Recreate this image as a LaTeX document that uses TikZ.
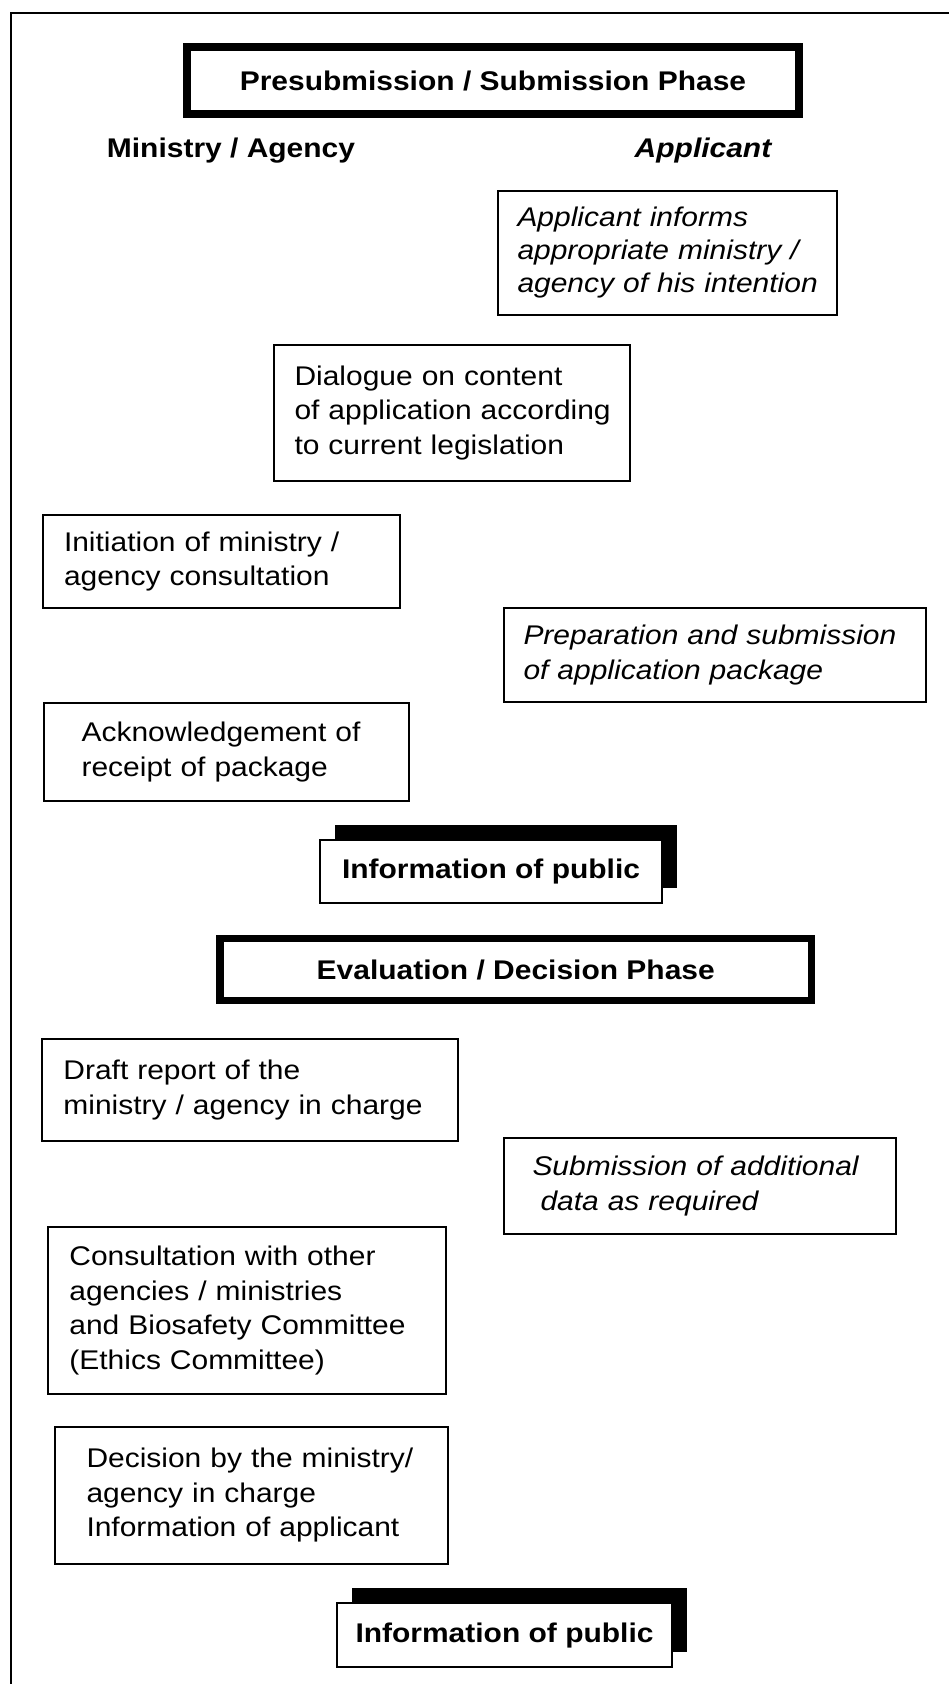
\documentclass[tikz,border=0pt]{standalone}
\usepackage{fontspec}
\setmainfont{Liberation Sans}[FakeStretch=1.11]
\usetikzlibrary{shadows}
\newcommand\basefont{\fontsize{27}{34.5}\selectfont}
\newcommand\oneline[1]{\mbox{#1}}
\begin{document}
\begin{tikzpicture}[x=1pt,y=-1pt,
  every node/.style={font=\basefont},
  stepbox/.style={draw, line width=2pt, rectangle, anchor=north west, align=left,
    inner ysep=0pt, outer sep=0pt},
  itbox/.style={stepbox, font=\basefont\itshape},
  phasebox/.style={draw, line width=7.5pt, rectangle, font=\basefont\bfseries,
    inner sep=0pt, outer sep=0pt},
  pubbox/.style={draw, line width=2pt, rectangle, fill=white, font=\basefont\bfseries,
    inner sep=0pt, outer sep=0pt,
    drop shadow={shadow xshift=14.5pt, shadow yshift=15.5pt, fill=black, opacity=1}},
  colhead/.style={anchor=base, font=\basefont\bfseries},
  frameline/.style={line width=1.8pt}
]
\useasboundingbox (0,0) rectangle (949,1684);
% outer frame (top and left only)
\coordinate (fa) at (11,1690);
\coordinate (fb) at (11,12.7);
\coordinate (fc) at (955,12.7);
\draw[frameline] (fa) -- (fb) -- (fc);

% phase 1
\node[phasebox, minimum width=612pt, minimum height=67pt] (ph1) at (493,80.5)
  {Presubmission / Submission Phase};
\node[colhead] (hmin) at (231,157) {Ministry / Agency};
\node[colhead, font=\basefont\bfseries\itshape] (happ) at (703,157) {Applicant};

\node[itbox, minimum height=124.3pt, inner xsep=20pt, text width=299.5pt] (app) at (497.5,190.7)
  {\oneline{Applicant informs}\\[-1.5pt]\oneline{appropriate ministry /}\\[-1.5pt]\oneline{agency of his intention}};
\node[stepbox, minimum height=136pt, inner xsep=20.5pt, text width=314.5pt] (dia) at (274,345)
  {\oneline{Dialogue on content}\\\oneline{of application according}\\\oneline{to current legislation}};
\node[stepbox, minimum height=93pt, inner xsep=21pt, text width=314.5pt] (ini) at (43,515)
  {\oneline{Initiation of ministry /}\\\oneline{agency consultation}};
\node[itbox, minimum height=94pt, inner xsep=20pt, text width=382.5pt] (prep) at (503.5,608)
  {\oneline{Preparation and submission}\\\oneline{of application package}};
\node[stepbox, minimum height=97.7pt, inner xsep=38pt, text width=289pt] (ack) at (43.6,703)
  {\oneline{Acknowledgement of}\\\oneline{receipt of package}};

\node[pubbox, minimum width=342pt, minimum height=63pt] (pub1) at (491,871.5)
  {Information of public};

% phase 2
\node[phasebox, minimum width=591.5pt, minimum height=62pt] (ph2) at (515.75,969.5)
  {Evaluation / Decision Phase};

\node[stepbox, minimum height=102pt, inner xsep=21pt, text width=373.6pt] (draft) at (42.4,1039)
  {\oneline{Draft report of the}\\\oneline{ministry / agency in charge}};
\node[itbox, minimum height=96pt, inner xsep=29pt, text width=334.2pt] (sub) at (503.5,1138)
  {\oneline{Submission of additional}\\\hspace*{8pt}\oneline{data as required}};
\node[stepbox, minimum height=167pt, inner xsep=21pt, text width=355.6pt] (cons) at (48.4,1227)
  {\oneline{Consultation with other}\\\oneline{agencies / ministries}\\\oneline{and Biosafety Committee}\\\oneline{(Ethics Committee)}};
\node[stepbox, minimum height=137pt, inner xsep=32pt, text width=329.5pt] (dec) at (54.5,1427)
  {\oneline{Decision by the ministry/}\\\oneline{agency in charge}\\\oneline{Information of applicant}};

\node[pubbox, minimum width=335pt, minimum height=64pt] (pub2) at (504.5,1635)
  {Information of public};
\end{tikzpicture}
\end{document}
